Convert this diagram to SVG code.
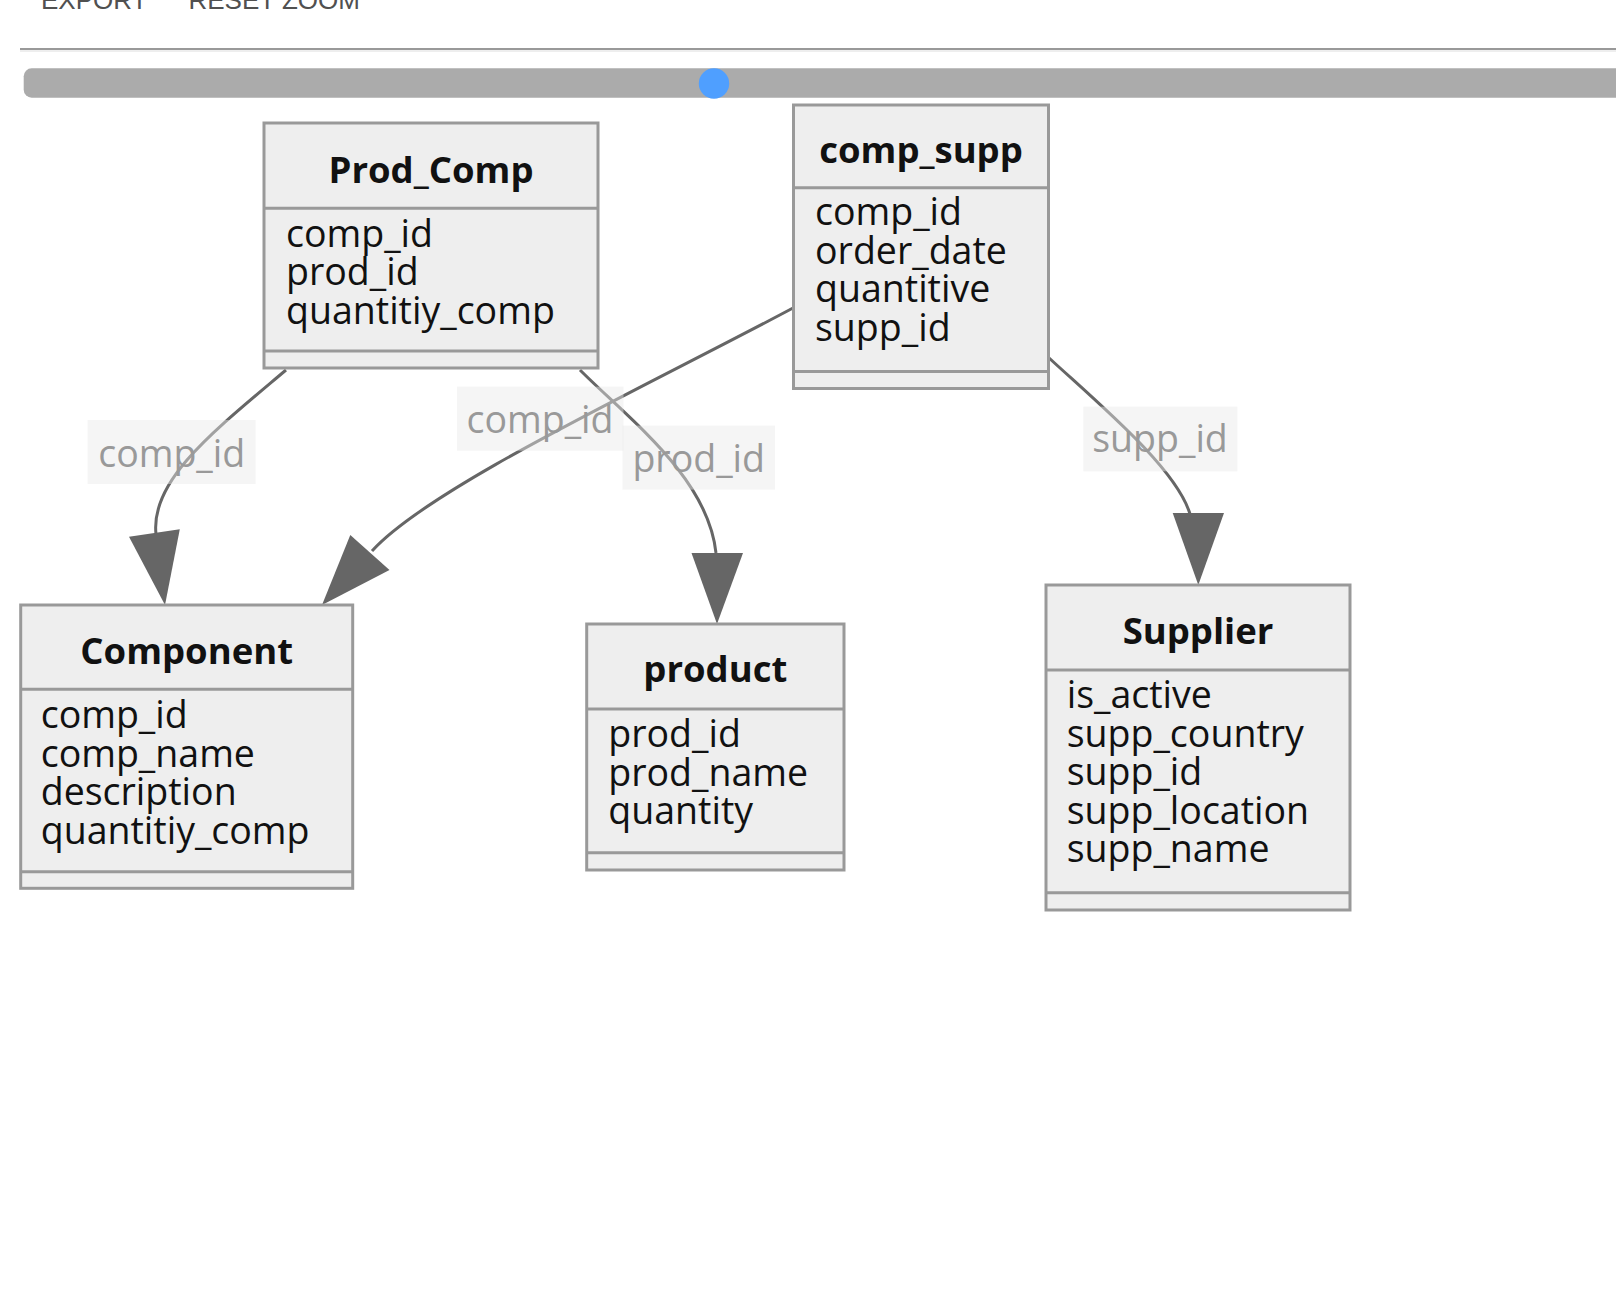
<svg xmlns="http://www.w3.org/2000/svg" width="1616" height="1304" viewBox="0 0 1616 1304">
<style>
.bg{fill:#ffffff}
.tb{font-family:"Liberation Sans",Arial,sans-serif;font-size:26px;fill:#505050}
.box{fill:#eeeeee;stroke:#999999;stroke-width:3}
.div{stroke:#999999;stroke-width:3;fill:none}
.title{font-family:"Open Sans","Noto Sans",sans-serif;font-weight:bold;font-size:36.5px;fill:#111111;text-anchor:middle}
.attr{font-family:"Open Sans","Noto Sans",sans-serif;font-size:37.5px;fill:#111111}
.edge{fill:none;stroke:#666666;stroke-width:3}
.head{fill:#666666;stroke:none}
.lbg{fill:#e8e8e8;fill-opacity:0.45}
.ltx{font-family:"Open Sans","Noto Sans",sans-serif;font-size:37.5px;fill:#999999;text-anchor:middle}
</style>
<rect class="bg" x="0" y="0" width="1616" height="1304"/>
<g id="toolbar">
<text class="tb" x="41" y="8.5">EXPORT</text>
<text class="tb" x="188.5" y="8.5">RESET ZOOM</text>
<line x1="20" y1="49" x2="1616" y2="49" stroke="#999999" stroke-width="2"/>
<line x1="20" y1="51" x2="1616" y2="51" stroke="#eeeeee" stroke-width="2"/>
<rect x="23.7" y="68.3" width="1620" height="29.4" rx="8" fill="#ababab"/>
<circle cx="714" cy="83.5" r="15.2" fill="#4f9fff"/>
</g>
<g id="connectors">
<path class="edge" d="M 286 370 C 215 430, 150 480, 156 534"/>
<polygon class="head" points="165,605 129,536.7 179.8,529.3"/>
<path class="edge" d="M 793 308 C 643 388, 430 487, 372 551"/>
<polygon class="head" points="322,605 350.3,535 389.5,570"/>
<path class="edge" d="M 580 370 C 630 420, 708 478, 716 553"/>
<polygon class="head" points="717,624 691.5,553 743,553"/>
<path class="edge" d="M 1048 357 C 1100 405, 1176 468, 1190 514"/>
<polygon class="head" points="1198.3,585 1172.7,513 1224,513"/>
</g>
<g id="node-Prod_Comp">
<rect class="box" x="264" y="123" width="334" height="245"/>
<line class="div" x1="264" y1="208.3" x2="598" y2="208.3"/>
<line class="div" x1="264" y1="351" x2="598" y2="351"/>
<text class="title" x="431" y="182.5">Prod_Comp</text>
<text class="attr" x="286" y="246.5">comp_id</text>
<text class="attr" x="286" y="285">prod_id</text>
<text class="attr" x="286" y="323.5">quantitiy_comp</text>
</g>
<g id="node-comp_supp">
<rect class="box" x="793.5" y="105" width="255" height="283.5"/>
<line class="div" x1="793.5" y1="187.8" x2="1048.5" y2="187.8"/>
<line class="div" x1="793.5" y1="371.5" x2="1048.5" y2="371.5"/>
<text class="title" x="921" y="163">comp_supp</text>
<text class="attr" x="815" y="225">comp_id</text>
<text class="attr" x="815" y="263.5">order_date</text>
<text class="attr" x="815" y="302">quantitive</text>
<text class="attr" x="815" y="340.5">supp_id</text>
</g>
<g id="node-Component">
<rect class="box" x="20.7" y="605" width="332" height="283.3"/>
<line class="div" x1="20.7" y1="689.3" x2="352.7" y2="689.3"/>
<line class="div" x1="20.7" y1="871.7" x2="352.7" y2="871.7"/>
<text class="title" x="186.7" y="664">Component</text>
<text class="attr" x="40.7" y="728.3">comp_id</text>
<text class="attr" x="40.7" y="766.8">comp_name</text>
<text class="attr" x="40.7" y="805.3">description</text>
<text class="attr" x="40.7" y="843.8">quantitiy_comp</text>
</g>
<g id="node-product">
<rect class="box" x="586.7" y="624" width="257.3" height="246"/>
<line class="div" x1="586.7" y1="709" x2="844" y2="709"/>
<line class="div" x1="586.7" y1="852.7" x2="844" y2="852.7"/>
<text class="title" x="715.3" y="682">product</text>
<text class="attr" x="608.3" y="747">prod_id</text>
<text class="attr" x="608.3" y="785.5">prod_name</text>
<text class="attr" x="608.3" y="824">quantity</text>
</g>
<g id="node-Supplier">
<rect class="box" x="1046" y="585" width="304" height="325"/>
<line class="div" x1="1046" y1="670" x2="1350" y2="670"/>
<line class="div" x1="1046" y1="892.7" x2="1350" y2="892.7"/>
<text class="title" x="1198" y="643.5">Supplier</text>
<text class="attr" x="1066.7" y="708.3">is_active</text>
<text class="attr" x="1066.7" y="746.8">supp_country</text>
<text class="attr" x="1066.7" y="785.3">supp_id</text>
<text class="attr" x="1066.7" y="823.8">supp_location</text>
<text class="attr" x="1066.7" y="862.3">supp_name</text>
</g>
<g id="edge-labels">
<rect class="lbg" x="87.6" y="420" width="168" height="64"/>
<text class="ltx" x="171.7" y="466.7">comp_id</text>
<rect class="lbg" x="457" y="386.7" width="166.5" height="64"/>
<text class="ltx" x="540" y="433.3">comp_id</text>
<rect class="lbg" x="622.5" y="425.6" width="152.5" height="64"/>
<text class="ltx" x="698.7" y="471.8">prod_id</text>
<rect class="lbg" x="1083.3" y="406.7" width="154" height="64.6"/>
<text class="ltx" x="1160" y="451.7">supp_id</text>
</g>
</svg>
